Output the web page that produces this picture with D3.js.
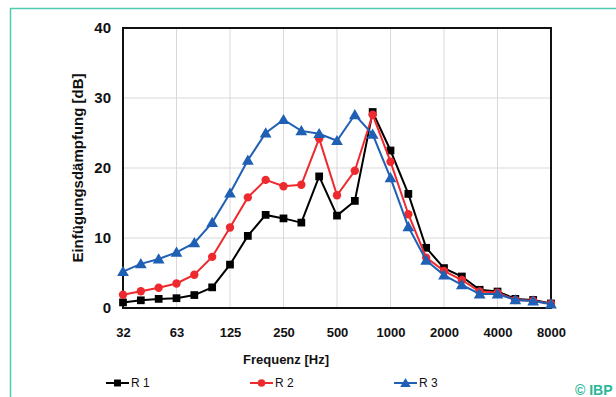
<!DOCTYPE html>
<html><head><meta charset="utf-8">
<script src="https://cdn.jsdelivr.net/npm/d3@7/dist/d3.min.js"></script>
<style>body{margin:0;background:#fff;}svg{display:block;font-family:"Liberation Sans",Arial,sans-serif;}</style>
</head><body><svg id="c" width="616" height="397"></svg>
<script>
const freqs = ["31.5","40","50","63","80","100","125","160","200","250","315","400","500","630","800","1000","1250","1600","2000","2500","3150","4000","5000","6300","8000"];
const tickLabels = {"31.5":"32","63":"63","125":"125","250":"250","500":"500","1000":"1000","2000":"2000","4000":"4000","8000":"8000"};
const r1 = [0.8,1.1,1.3,1.4,1.85,2.95,6.2,10.3,13.3,12.8,12.2,18.8,13.2,15.3,28.0,22.5,16.3,8.6,5.7,4.5,2.6,2.35,1.3,1.15,0.65];
const r2 = [1.9,2.4,2.9,3.5,4.75,7.3,11.5,15.8,18.3,17.4,17.6,24.2,16.1,19.6,27.6,20.9,13.4,7.2,5.3,4.0,2.35,2.2,1.15,1.05,0.6];
const r3 = [5.2,6.3,7.0,7.95,9.3,12.2,16.4,21.1,25.0,26.9,25.3,24.9,23.9,27.6,24.8,18.6,11.6,6.8,4.7,3.3,2.0,2.0,1.15,1.0,0.55];
const yTicks = [0,10,20,30,40];
const series = [
  {name:"R 1", values:r1, color:"#000000", marker:"square"},
  {name:"R 2", values:r2, color:"#ee2a2e", marker:"circle"},
  {name:"R 3", values:r3, color:"#1f5fb4", marker:"triangle"}
];

const svg = d3.select("#c");
const L=123, R=551, T=28, B=308;
const x = d3.scalePoint().domain(freqs).range([L,R]);
const y = d3.scaleLinear().domain([0,40]).range([B,T]);

// teal frame
svg.append("path").attr("d","M10.5,397 V8.5 H616").attr("fill","none").attr("stroke","#4fcbb2").attr("stroke-width",1.5);

// gridlines
svg.append("g").selectAll("line").data(yTicks.slice(1,4)).join("line")
  .attr("x1",L).attr("x2",R).attr("y1",d=>y(d)).attr("y2",d=>y(d))
  .attr("stroke","#d9d9d9").attr("stroke-width",1);
const xTickVals = freqs.filter(f=>tickLabels[f]);
svg.append("g").selectAll("line").data(xTickVals.slice(1,-1)).join("line")
  .attr("x1",d=>x(d)).attr("x2",d=>x(d)).attr("y1",T).attr("y2",B)
  .attr("stroke","#d9d9d9").attr("stroke-width",1);

// axes
const yAxis = svg.append("g").attr("transform",`translate(${L},0)`)
  .call(d3.axisLeft(y).tickValues(yTicks).tickSize(0).tickPadding(12).tickFormat(d3.format("d")));
yAxis.select(".domain").remove();
yAxis.selectAll("text").attr("font-size",15).attr("font-weight","bold").attr("fill","#111").attr("font-family","Liberation Sans, Arial");

const xAxis = svg.append("g").attr("transform",`translate(0,${B})`)
  .call(d3.axisBottom(x).tickValues(xTickVals).tickSize(0).tickPadding(20).tickFormat(d=>tickLabels[d]));
xAxis.select(".domain").remove();
xAxis.selectAll("text").attr("font-size",13).attr("font-weight","bold").attr("fill","#111").attr("font-family","Liberation Sans, Arial");

// plot frame
svg.append("rect").attr("x",L).attr("y",T).attr("width",R-L).attr("height",B-T)
  .attr("fill","none").attr("stroke","#111").attr("stroke-width",2);

// series
const line = d3.line().x((d,i)=>x(freqs[i])).y(d=>y(d));
const sym = {square:d3.symbolSquare, circle:d3.symbolCircle, triangle:d3.symbolTriangle};
const size = {square:60, circle:55, triangle:60};
series.forEach(s=>{
  svg.append("path").datum(s.values).attr("d",line).attr("fill","none")
    .attr("stroke",s.color).attr("stroke-width",2);
  svg.append("g").selectAll("path").data(s.values).join("path")
    .attr("transform",(d,i)=>`translate(${x(freqs[i])},${y(d)+(s.marker==="triangle"?1:0)})`)
    .attr("d",d3.symbol().type(sym[s.marker]).size(size[s.marker]))
    .attr("fill",s.color);
});

// titles
svg.append("text").attr("x",286).attr("y",364).attr("text-anchor","middle")
  .attr("font-size",13).attr("font-weight","bold").attr("fill","#111").text("Frequenz [Hz]");
svg.append("text").attr("transform","translate(83,168) rotate(-90)").attr("text-anchor","middle")
  .attr("font-size",15).attr("font-weight","bold").attr("fill","#111").text("Einfügungsdämpfung [dB]");

// legend
const legX = [106,250,394];
series.forEach((s,i)=>{
  const g = svg.append("g").attr("transform",`translate(${legX[i]},383)`);
  g.append("line").attr("x1",0).attr("x2",23).attr("y1",0).attr("y2",0).attr("stroke",s.color).attr("stroke-width",2);
  g.append("path").attr("transform",`translate(11.5,${s.marker==="triangle"?1:0})`)
    .attr("d",d3.symbol().type(sym[s.marker]).size(size[s.marker]*0.8)).attr("fill",s.color);
  g.append("text").attr("x",25).attr("y",4).attr("font-size",12).attr("fill","#111").text(s.name);
});

svg.append("text").attr("x",575).attr("y",395).attr("font-size",14).attr("font-weight","bold")
  .attr("fill","#2ab795").text("© IBP");
</script></body></html>
